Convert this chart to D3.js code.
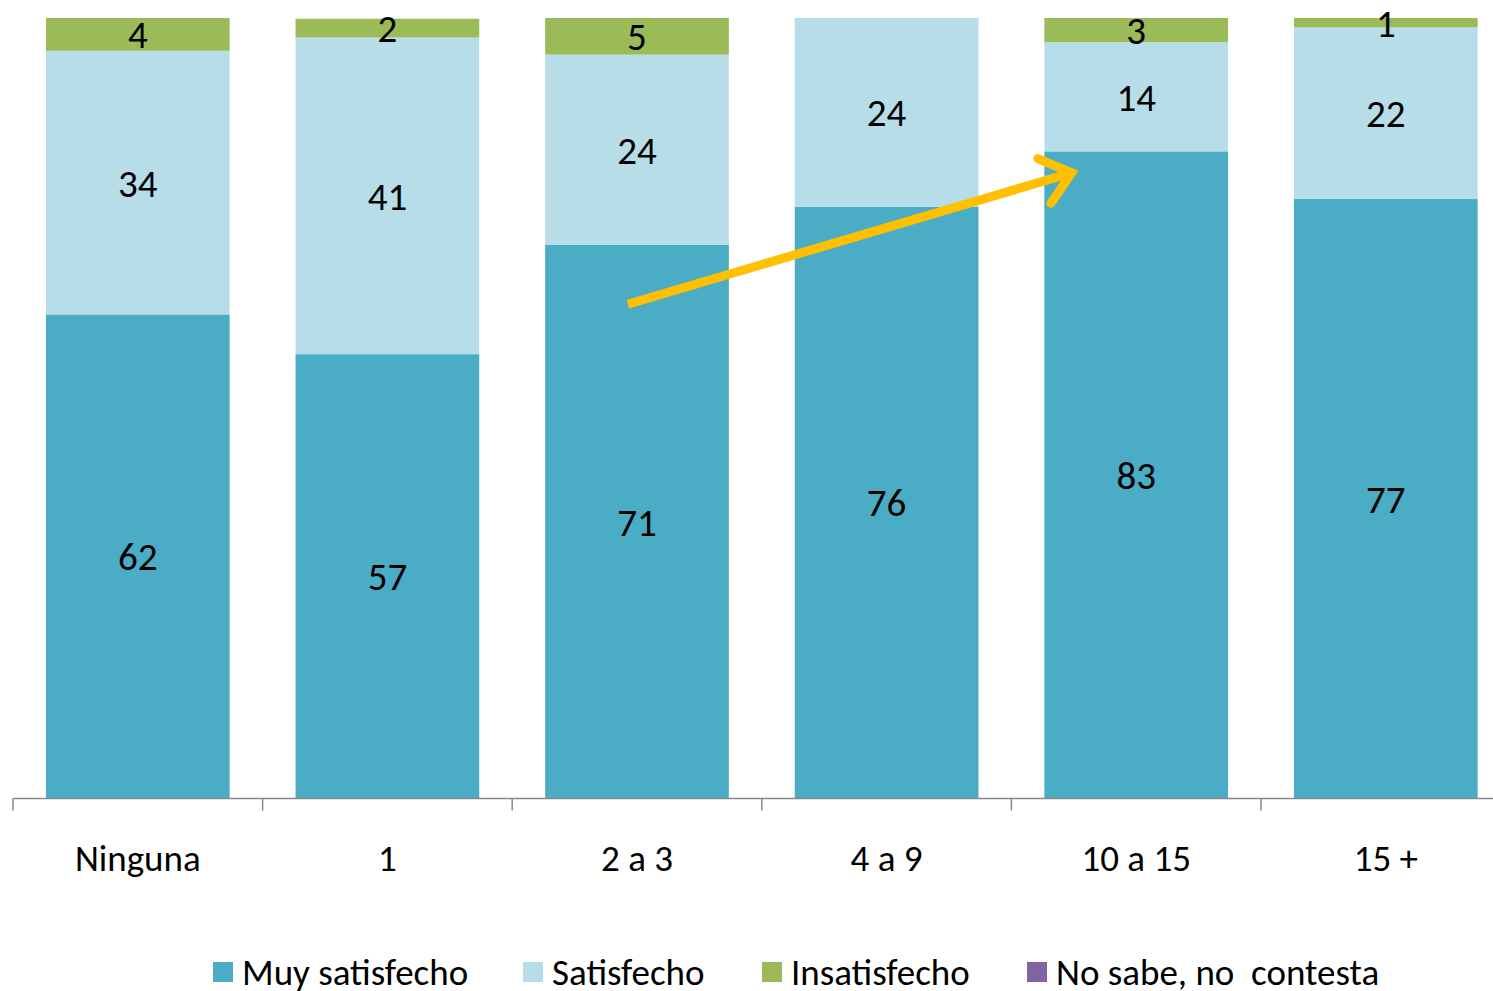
<!DOCTYPE html>
<html>
<head>
<meta charset="utf-8">
<script src="https://cdn.jsdelivr.net/npm/d3@7"></script>
<style>
  body { margin: 0; background: #fff; }
  svg { display: block; font-family: Carlito, Calibri, Lato, sans-serif; }
</style>
</head>
<body>
<div id="chart"></div>
<script>
// data (labels show the rounded values)
const categories = ["Ninguna", "1", "2 a 3", "4 a 9", "10 a 15", "15 +"];
const seriesNames = ["Muy satisfecho", "Satisfecho", "Insatisfecho", "No sabe, no  contesta"];
const muySatisfecho = [62.0, 56.9, 70.9, 75.8, 82.9, 76.8];
const satisfecho    = [33.8, 40.6, 24.4, 24.2, 14.0, 22.0];
const insatisfecho  = [4.2, 2.4, 4.7, 0, 3.1, 1.2];
const noSabe        = [0, 0, 0, 0, 0, 0];
const colors = ["#4BACC6", "#B7DEE8", "#9BBB59", "#8064A2"];

// trend arrow, in data space: category, fraction across band, value
const arrowFrom = ["2 a 3", 0.45, 63.3];
const arrowTo = ["10 a 15", 0.17, 80.3];

const width = 1493, height = 991;
const svg = d3.select("#chart").append("svg")
  .attr("width", width)
  .attr("height", height);

const x = d3.scaleBand()
  .domain(categories)
  .range([13, 13 + 6 * 249.6])
  .paddingInner(0.264)
  .paddingOuter(0.132);

const y = d3.scaleLinear().domain([0, 100]).range([798, 18]);

const rows = categories.map((c, i) => ({
  cat: c,
  [seriesNames[0]]: muySatisfecho[i],
  [seriesNames[1]]: satisfecho[i],
  [seriesNames[2]]: insatisfecho[i],
  [seriesNames[3]]: noSabe[i]
}));

const stacked = d3.stack().keys(seriesNames)(rows);

// bars
const layers = svg.append("g").selectAll("g")
  .data(stacked)
  .join("g")
  .attr("fill", (d, i) => colors[i]);

layers.selectAll("rect")
  .data(d => d)
  .join("rect")
  .attr("x", d => x(d.data.cat))
  .attr("width", x.bandwidth())
  .attr("y", d => y(d[1]))
  .attr("height", d => y(d[0]) - y(d[1]));

// value labels
layers.selectAll("text")
  .data(d => d.filter(s => s[1] - s[0] > 0))
  .join("text")
  .attr("x", d => x(d.data.cat) + x.bandwidth() / 2)
  .attr("y", d => y((d[0] + d[1]) / 2))
  .attr("dy", "0.36em")
  .attr("text-anchor", "middle")
  .attr("font-size", 39)
  .attr("fill", "#000")
  .text(d => d3.format(".0f")(d[1] - d[0]));

// axis
const axisG = svg.append("g").attr("transform", "translate(0,798.5)");
axisG.append("line")
  .attr("x1", x.range()[0]).attr("x2", x.range()[1])
  .attr("stroke", "#888").attr("stroke-width", 1.5);
const step = x.step();
axisG.selectAll("line.tick")
  .data(d3.range(categories.length + 1))
  .join("line")
  .attr("class", "tick")
  .attr("x1", i => x.range()[0] + i * step)
  .attr("x2", i => x.range()[0] + i * step)
  .attr("y1", 0).attr("y2", 12)
  .attr("stroke", "#888").attr("stroke-width", 1.5);

svg.append("g").selectAll("text")
  .data(categories)
  .join("text")
  .attr("x", d => x(d) + x.bandwidth() / 2)
  .attr("y", 858)
  .attr("dy", "0.36em")
  .attr("text-anchor", "middle")
  .attr("font-size", 37)
  .attr("fill", "#000")
  .text(d => d);

// arrow
const ax1 = x(arrowFrom[0]) + arrowFrom[1] * x.bandwidth(), ay1 = y(arrowFrom[2]);
const ax2 = x(arrowTo[0]) + arrowTo[1] * x.bandwidth(), ay2 = y(arrowTo[2]);
const ang = Math.atan2(ay2 - ay1, ax2 - ax1);
const headLen = 40, headAng = 0.62;
const arrow = svg.append("g")
  .attr("stroke", "#FFC000")
  .attr("stroke-width", 9)
  .attr("fill", "none");
arrow.append("line")
  .attr("x1", ax1).attr("y1", ay1)
  .attr("x2", ax2 - 6 * Math.cos(ang)).attr("y2", ay2 - 6 * Math.sin(ang));
arrow.append("path")
  .attr("stroke-linecap", "round")
  .attr("stroke-linejoin", "miter")
  .attr("d", d3.line()([
    [ax2 - headLen * Math.cos(ang - headAng), ay2 - headLen * Math.sin(ang - headAng)],
    [ax2 - 4 * Math.cos(ang), ay2 - 4 * Math.sin(ang)],
    [ax2 - headLen * Math.cos(ang + headAng), ay2 - headLen * Math.sin(ang + headAng)]
  ]));

// legend
const legendX = [213, 523, 762, 1027];
const legend = svg.append("g").selectAll("g")
  .data(seriesNames)
  .join("g")
  .attr("transform", (d, i) => `translate(${legendX[i]},962)`);
legend.append("rect")
  .attr("width", 20).attr("height", 20)
  .attr("fill", (d, i) => colors[i]);
legend.append("text")
  .attr("x", 29)
  .attr("y", 10)
  .attr("dy", "0.34em")
  .attr("font-size", 37)
  .attr("fill", "#000")
  .style("white-space", "pre")
  .text(d => d);
</script>
</body>
</html>
